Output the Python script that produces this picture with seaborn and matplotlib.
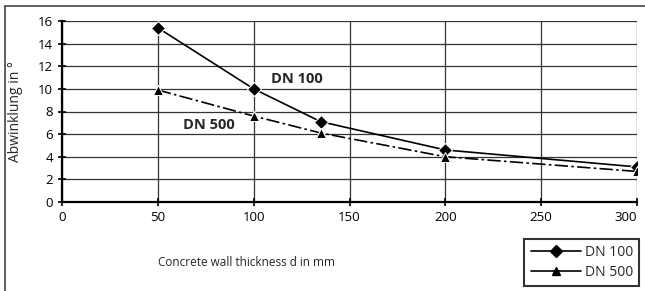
import numpy as np
import pandas as pd
import matplotlib.pyplot as plt
import seaborn as sns

# wall thickness in mm and deflection in degrees
thickness = [50, 100, 135, 200, 300]
dn100 = [15.4, 10.0, 7.1, 4.6, 3.1]
dn500 = [9.9, 7.6, 6.1, 4.0, 2.7]
series = ["DN 100", "DN 500"]


def main():
    sns.set_style("white")
    plt.rcParams["font.family"] = ["Open Sans", "DejaVu Sans"]

    df = pd.DataFrame({
        "d": thickness * 2,
        "angle": dn100 + dn500,
        "series": [series[0]] * len(thickness) + [series[1]] * len(thickness),
    })

    fig = plt.figure(figsize=(6.45, 2.91), dpi=100)
    ax = fig.add_axes([62 / 645, 1 - 202 / 291, 575 / 645, 181 / 291])

    sns.lineplot(
        data=df, x="d", y="angle", hue="series", style="series",
        markers={"DN 100": "D", "DN 500": "^"},
        dashes={"DN 100": "", "DN 500": (8, 2, 1.5, 2)},
        palette={"DN 100": "black", "DN 500": "black"},
        markersize=7, linewidth=1.2, ax=ax, legend=False,
    )

    ax.set_xlim(0, 300)
    ax.set_ylim(0, 16)
    ax.set_xticks(np.arange(0, 301, 50))
    ax.set_yticks(np.arange(0, 17, 2))
    ax.grid(True, color="#333333", linewidth=0.9)
    ax.set_axisbelow(True)
    for s in ["top", "right"]:
        ax.spines[s].set_visible(False)
    for s in ["left", "bottom"]:
        ax.spines[s].set_linewidth(1.6)
        ax.spines[s].set_color("black")
    ax.tick_params(axis="both", direction="inout", length=6, width=1.2,
                   labelsize=9.5, colors="black", left=True, bottom=True)
    # last x label sits left of its tick so it stays inside the picture
    ax.get_xticklabels()[-1].set_horizontalalignment("right")
    ax.set_xlabel("")
    ax.set_ylabel("Abwinklung in °", fontsize=10)
    ax.yaxis.set_label_coords(-0.068, 0.5)

    ax.text(109, 10.9, "DN 100", fontsize=10.5, fontweight="bold", va="center")
    ax.text(63, 6.8, "DN 500", fontsize=10.5, fontweight="bold", va="center")

    fig.text(247 / 645, 1 - 263 / 291, "Concrete wall thickness d in mm",
             fontsize=8.5, ha="center", va="center")

    # legend with solid lines, boxed bottom right
    h1, = ax.plot([], [], color="black", marker="D", markersize=6, linewidth=1.2)
    h2, = ax.plot([], [], color="black", marker="^", markersize=6, linewidth=1.2)
    leg = fig.legend([h1, h2], series, loc="lower right",
                     bbox_to_anchor=(642 / 645, 2 / 291), frameon=True,
                     fancybox=False, fontsize=10, handlelength=3.6,
                     handletextpad=0.3, borderpad=0.45, labelspacing=0.35,
                     borderaxespad=0.2)
    leg.get_frame().set_edgecolor("black")
    leg.get_frame().set_linewidth(1.5)

    # outer frame lines on the left and top
    fig.add_artist(plt.Line2D([5 / 645, 5 / 645], [0, 1 - 6 / 291],
                              color="#444444", linewidth=1.2))
    fig.add_artist(plt.Line2D([5 / 645, 1], [1 - 6 / 291, 1 - 6 / 291],
                              color="#444444", linewidth=1.2))

    fig.savefig("out.png", dpi=100)


if __name__ == "__main__":
    main()
